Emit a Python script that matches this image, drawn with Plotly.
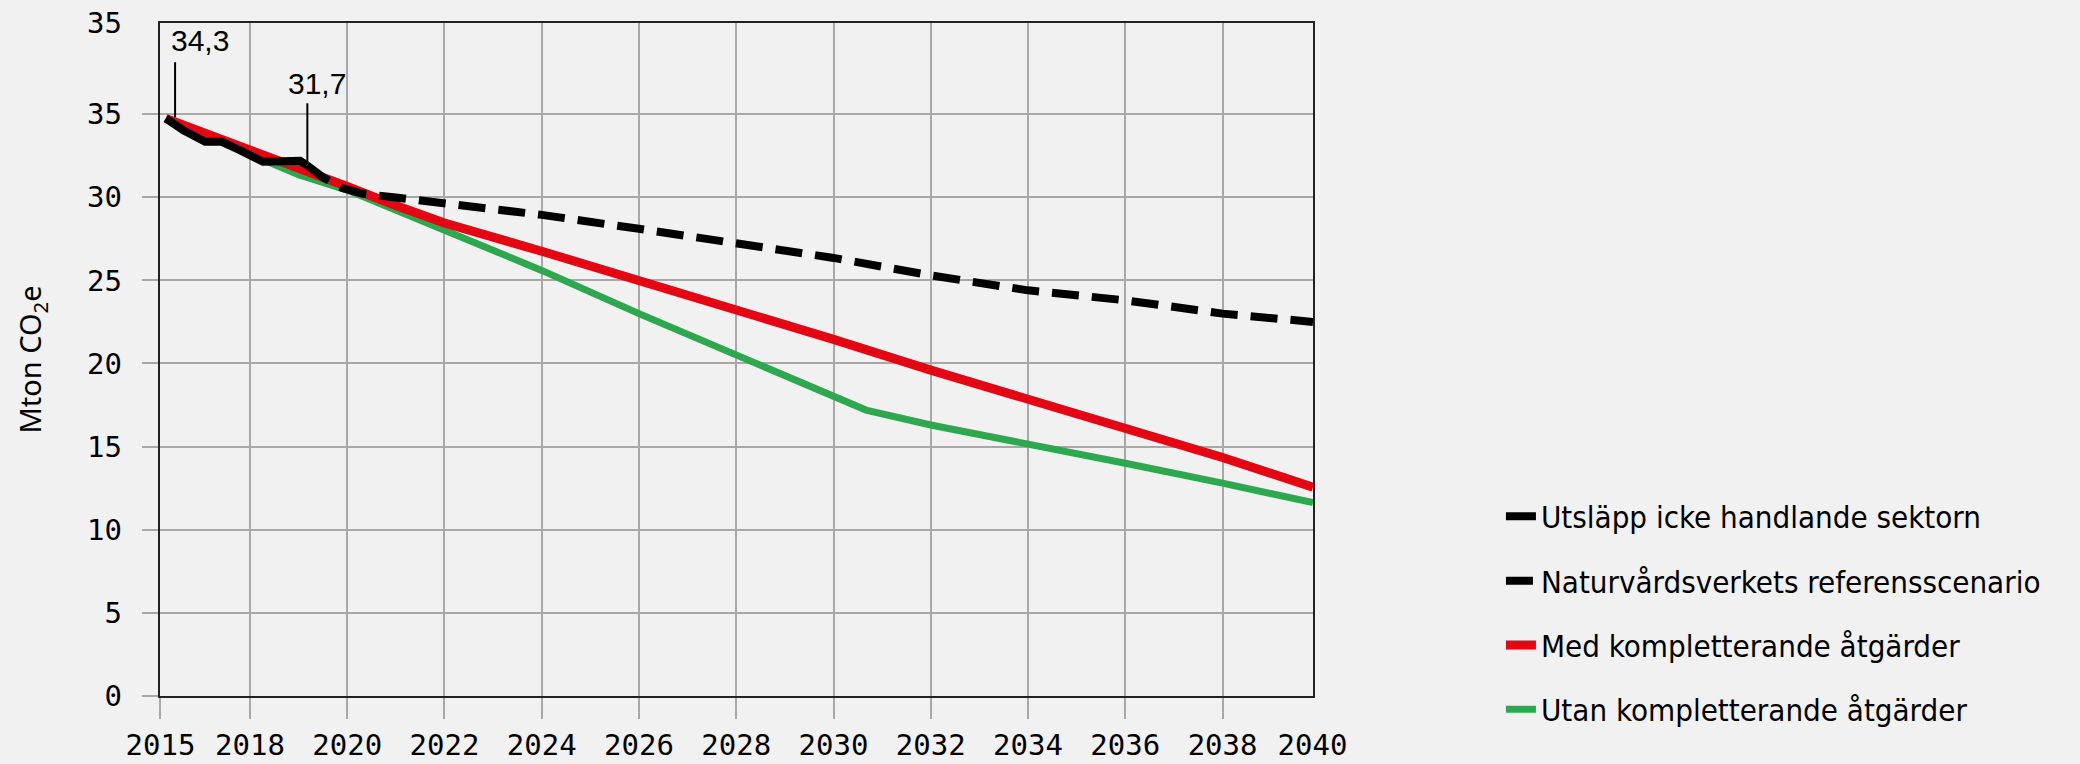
import plotly.graph_objects as go

# ---- data ----
HIST_YEARS = [2016.27, 2016.63, 2017.08, 2017.42, 2017.79, 2018.27, 2019.03, 2019.17]
HIST_VALUES = [34.74, 34.03, 33.33, 33.33, 32.83, 32.13, 32.19, 31.93]

REF_YEARS = [2019.17, 2019.5, 2019.9, 2020.3, 2021, 2022, 2023, 2024, 2026, 2028,
             2030, 2032, 2034, 2036, 2038, 2039.86]
REF_VALUES = [31.93, 31.2, 30.55, 30.22, 29.98, 29.63, 29.3, 28.94, 28.1, 27.2,
              26.35, 25.3, 24.4, 23.8, 23.0, 22.5]

MED_YEARS = [2016.27, 2018, 2019, 2020, 2021, 2022, 2024, 2026, 2028, 2030, 2032,
             2034, 2036, 2038, 2039.86]
MED_VALUES = [34.74, 32.9, 31.75, 30.65, 29.5, 28.45, 26.75, 25.0, 23.2, 21.45, 19.6,
              17.85, 16.1, 14.35, 12.56]

UTAN_YEARS = [2016.27, 2018, 2019, 2020, 2022, 2024, 2026, 2028, 2030, 2030.67, 2032,
              2034, 2036, 2038, 2039.86]
UTAN_VALUES = [34.74, 32.55, 31.35, 30.43, 28.0, 25.6, 23.0, 20.5, 18.1, 17.2, 16.3,
               15.2, 14.0, 12.8, 11.63]

X_TICK_VALS = [2016.16, 2018, 2020, 2022, 2024, 2026, 2028, 2030, 2032, 2034, 2036, 2038, 2039.85]
X_TICK_TEXT = ["2015", "2018", "2020", "2022", "2024", "2026", "2028", "2030", "2032",
               "2034", "2036", "2038", "2040"]
X_GRID_VALS = [2016.16, 2018, 2020, 2022, 2024, 2026, 2028, 2030, 2032, 2034, 2036, 2038]

Y_TICK_VALS = [0, 5, 10, 15, 20, 25, 30, 35, 40.47]
Y_TICK_TEXT = ["0", "5", "10", "15", "20", "25", "30", "35", "35"]
Y_GRID_VALS = [0, 5, 10, 15, 20, 25, 30, 35]

X_RANGE = [2016.15, 2039.86]
Y_RANGE = [0, 40.48]

NAMES = ["Utsläpp icke handlande sektorn", "Naturvårdsverkets referensscenario",
         "Med kompletterande åtgärder", "Utan kompletterande åtgärder"]

LABELS = [("34,3", 2016.46, 34.81, 38.12, 2016.97, 39.44),
          ("31,7", 2019.18, 32.05, 35.65, 2019.38, 36.83)]

RED = "#e30613"
GREEN = "#2ea84f"
GRID = "#a8a8a8"
BG = "#f1f1f1"

fig = go.Figure()
fig.add_trace(go.Scatter(x=UTAN_YEARS, y=UTAN_VALUES, mode="lines", name=NAMES[3],
                         legendgroup="d", legendrank=4, line=dict(color=GREEN, width=7)))
fig.add_trace(go.Scatter(x=MED_YEARS, y=MED_VALUES, mode="lines", name=NAMES[2],
                         legendgroup="c", legendrank=3, line=dict(color=RED, width=9)))
fig.add_trace(go.Scatter(x=REF_YEARS, y=REF_VALUES, mode="lines", name=NAMES[1],
                         legendgroup="b", legendrank=2,
                         line=dict(color="black", width=8, dash="27px,13px")))
fig.add_trace(go.Scatter(x=HIST_YEARS, y=HIST_VALUES, mode="lines", name=NAMES[0],
                         legendgroup="a", legendrank=1, line=dict(color="black", width=8)))
# empty trace that carries the label-only overlay axes
fig.add_trace(go.Scatter(x=[], y=[], xaxis="x2", yaxis="y2", showlegend=False,
                         hoverinfo="skip"))

for txt, lx, ly0, ly1, tx, ty in LABELS:
    fig.add_shape(type="line", xref="x", yref="y", x0=lx, x1=lx, y0=ly0, y1=ly1,
                  line=dict(color="black", width=2))
    fig.add_annotation(x=tx, y=ty, xref="x", yref="y", text=txt, showarrow=False,
                       font=dict(family="Liberation Sans, Arial, sans-serif", size=30,
                                 color="black"))

tick_font = dict(family="DejaVu Sans Mono, monospace", size=29, color="black")

fig.update_layout(
    width=2080, height=764,
    margin=dict(l=160, r=767, t=23, b=68, autoexpand=False),
    paper_bgcolor=BG, plot_bgcolor=BG,
    showlegend=True,
    legend=dict(
        x=1.163, y=0.123, xanchor="left", yanchor="middle",
        xref="paper", yref="paper",
        traceorder="grouped", tracegroupgap=21,
        font=dict(family="DejaVu Sans Condensed, DejaVu Sans, sans-serif", size=31,
                  color="black"),
        bgcolor="rgba(0,0,0,0)",
    ),
    # main axes: grid lines + grey tick extensions, no labels
    xaxis=dict(
        range=X_RANGE,
        tickmode="array", tickvals=X_GRID_VALS, showticklabels=False,
        ticks="outside", ticklen=21, tickwidth=2, tickcolor=GRID,
        showgrid=True, gridcolor=GRID, gridwidth=2, zeroline=False, automargin=False,
        showline=True, mirror=True, linecolor="#222222", linewidth=2,
    ),
    yaxis=dict(
        range=Y_RANGE,
        tickmode="array", tickvals=Y_GRID_VALS, showticklabels=False,
        ticks="outside", ticklen=16, tickwidth=2, tickcolor=GRID,
        showgrid=True, gridcolor=GRID, gridwidth=2, zeroline=False, automargin=False,
        showline=True, mirror=True, linecolor="#222222", linewidth=2,
    ),
    # overlay axes: tick labels only
    xaxis2=dict(
        overlaying="x", anchor="y2", side="bottom", range=X_RANGE,
        tickmode="array", tickvals=X_TICK_VALS, ticktext=X_TICK_TEXT,
        ticks="", showgrid=False, zeroline=False, showline=False, automargin=False,
        tickfont=tick_font, ticklabelstandoff=29,
    ),
    yaxis2=dict(
        overlaying="y", anchor="x2", side="left", range=Y_RANGE,
        tickmode="array", tickvals=Y_TICK_VALS, ticktext=Y_TICK_TEXT,
        ticks="", showgrid=False, zeroline=False, showline=False, automargin=False,
        tickfont=tick_font, ticklabelstandoff=37,
        title=dict(text="Mton CO<sub>2</sub>e", standoff=36,
                   font=dict(family="Noto Sans, Roboto, sans-serif", size=29, color="black")),
    ),
)

fig.write_html(
    "out.html",
    config={"displayModeBar": False},
    post_script="document.body.style.margin='0';document.body.style.overflow='hidden';",
)
